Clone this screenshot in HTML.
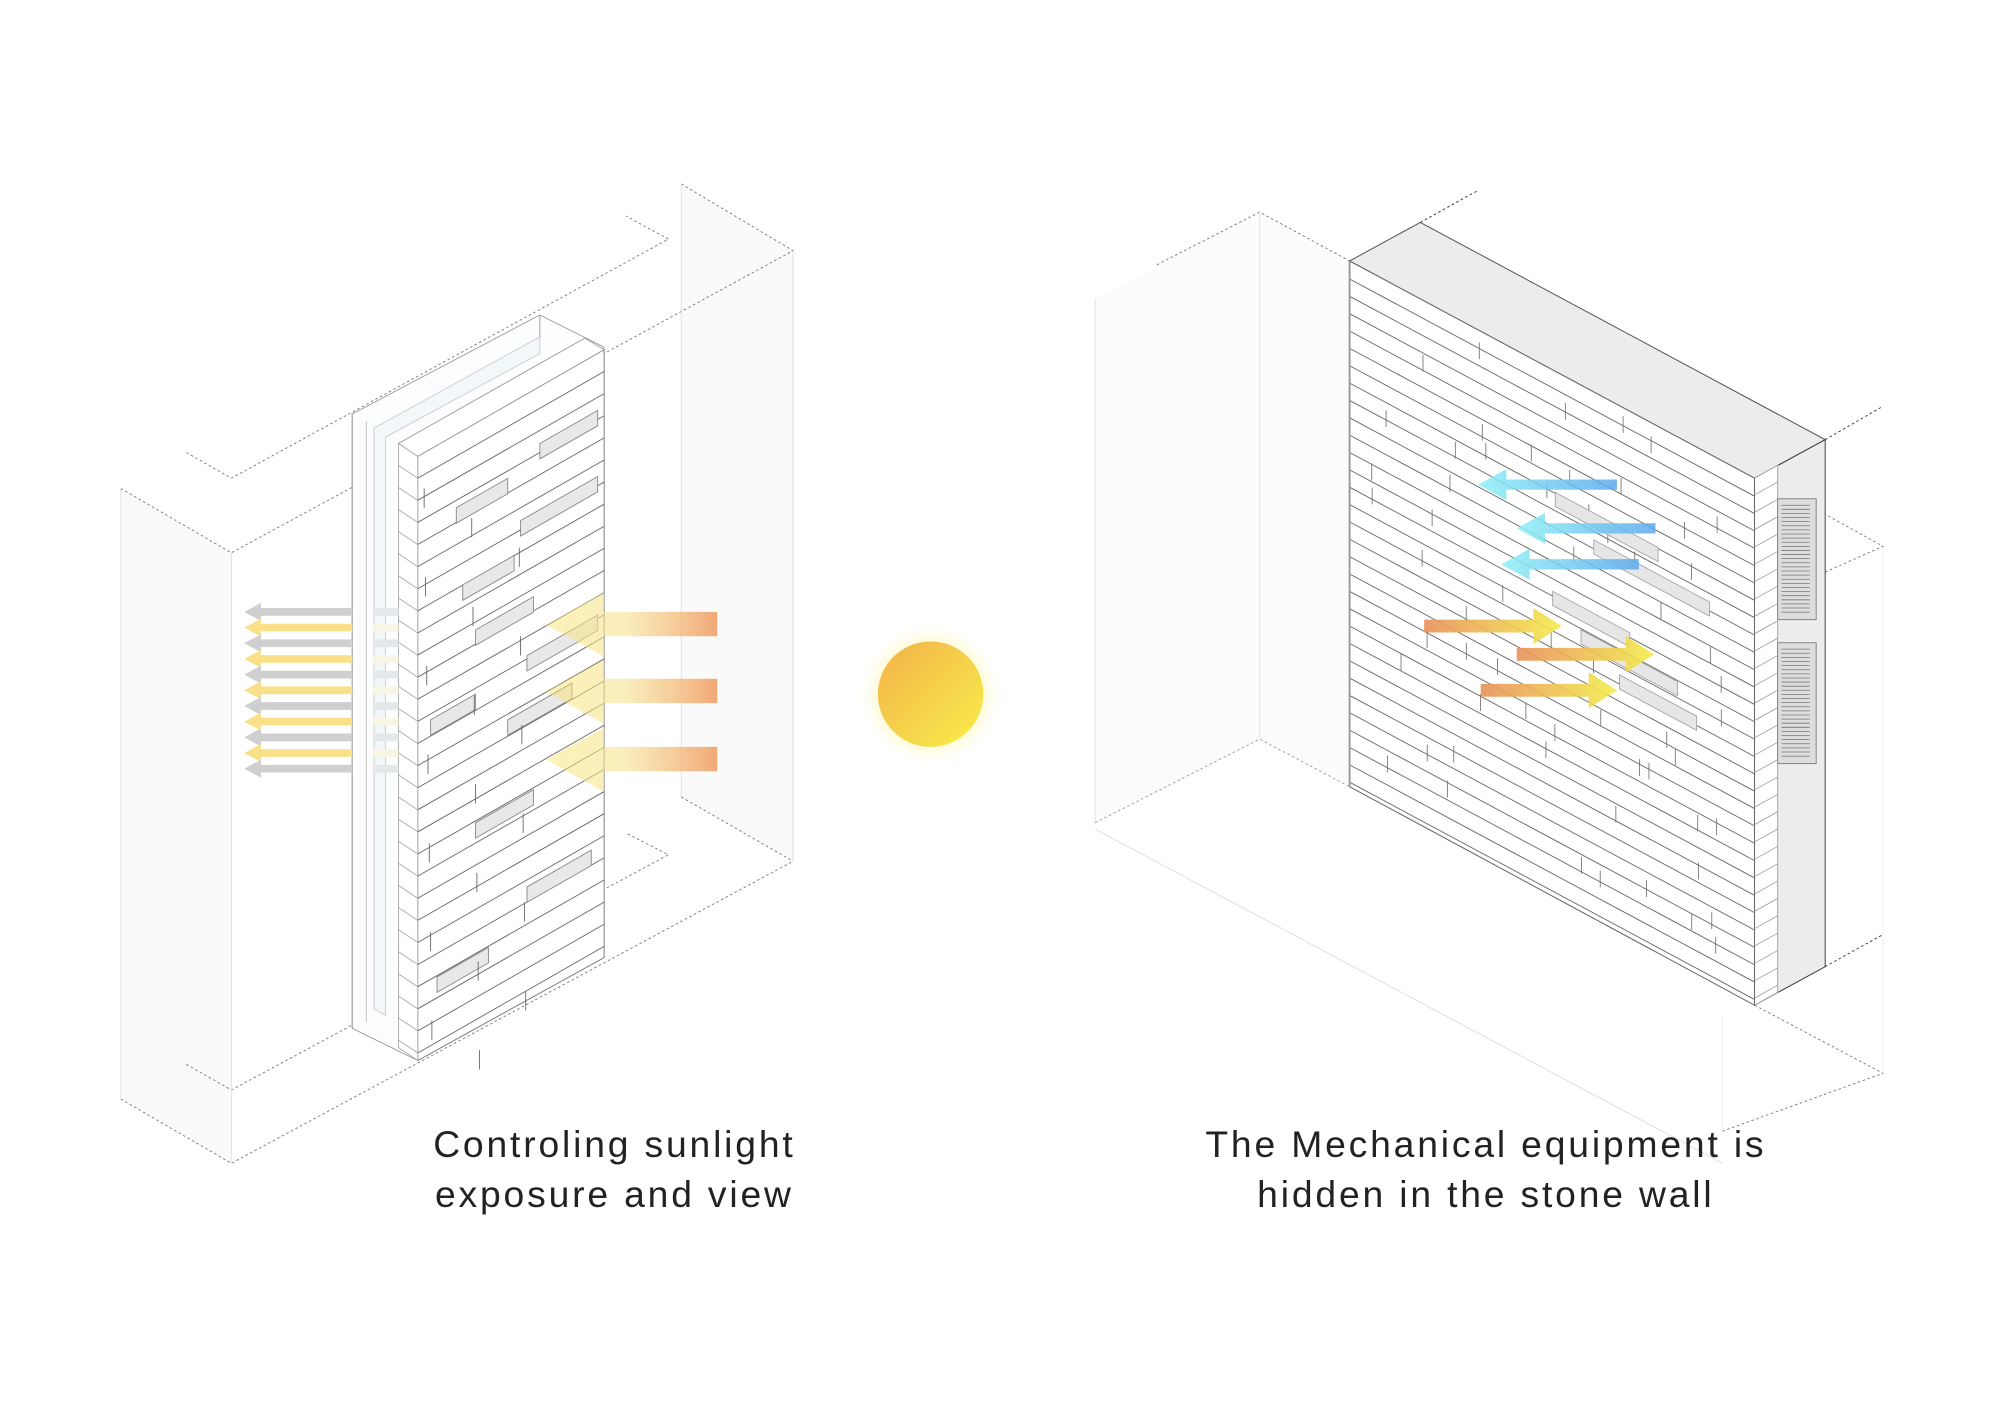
<!DOCTYPE html>
<html><head><meta charset="utf-8"><style>
html,body{margin:0;padding:0;background:#fff;}
svg{display:block}
</style></head><body>
<svg id="s" width="2000" height="1414" viewBox="0 0 1556 1100" xmlns="http://www.w3.org/2000/svg">
<defs>
<linearGradient id="sun" x1="0" y1="0" x2="1" y2="1">
<stop offset="0" stop-color="#f2b24a"/><stop offset="0.6" stop-color="#f6d64a"/><stop offset="1" stop-color="#f9ef4a"/></linearGradient>
<radialGradient id="glow"><stop offset="0.6" stop-color="#fff6b0" stop-opacity="0.9"/><stop offset="1" stop-color="#fff" stop-opacity="0"/></radialGradient>
<linearGradient id="ya" x1="0" y1="0" x2="1" y2="0"><stop offset="0" stop-color="#f8e060" stop-opacity="0.5"/><stop offset="0.45" stop-color="#f7e7a0" stop-opacity="0.8"/><stop offset="1" stop-color="#f09a60"/></linearGradient>
<linearGradient id="ba" x1="0" y1="0" x2="1" y2="0"><stop offset="0" stop-color="#8ef0f6"/><stop offset="1" stop-color="#5aa8ee"/></linearGradient>
<linearGradient id="oa" x1="0" y1="0" x2="1" y2="0"><stop offset="0" stop-color="#e8905a"/><stop offset="1" stop-color="#f4ec4a"/></linearGradient>
</defs>
<g id="bg" fill="none" stroke="#777" stroke-width="0.7" stroke-dasharray="2,2">
<polygon points="94,380 180,430 180,905 94,855" fill="#fafafa" stroke="none"/>
<polygon points="530,143 617,195 617,670 530,620" fill="#fafafa" stroke="none"/>
<polyline points="94,380 180,430 300,365"/>
<polyline points="145,352 180,372 520,186 487,168"/>
<polyline points="530,143 617,195 470,275"/>
<polyline points="94,855 180,905 617,670"/>
<polyline points="145,828 180,848 520,665 487,648"/>
<polyline points="530,620 617,670"/>
<line x1="180" y1="430" x2="180" y2="905" stroke="#ddd" stroke-dasharray="none"/>
<line x1="94" y1="380" x2="94" y2="855" stroke="#ddd" stroke-dasharray="none"/>
<line x1="617" y1="195" x2="617" y2="670" stroke="#ddd" stroke-dasharray="none"/>
<line x1="530" y1="143" x2="530" y2="620" stroke="#ddd" stroke-dasharray="none"/>
<polygon points="852,232 980,165 1050,203 1050,612 980,575 852,640" fill="#fcfcfc" stroke="none"/>
<polyline points="900,206 980,165 1050,203"/>
<line x1="852" y1="232" x2="852" y2="640" stroke="#e4e4e4" stroke-dasharray="none"/>
<line x1="980" y1="165" x2="980" y2="575" stroke="#e4e4e4" stroke-dasharray="none"/>
<polyline points="852,640 980,575 1050,612" stroke="#999"/>
<line x1="852" y1="645" x2="1340" y2="905" stroke="#ddd" stroke-dasharray="none"/>
<polyline points="1340,880 1465,835 1365,782"/>
<line x1="1340" y1="790" x2="1340" y2="880" stroke="#eee" stroke-dasharray="none"/>
<line x1="1465" y1="425" x2="1465" y2="835" stroke="#eee" stroke-dasharray="none"/>
<line x1="1105" y1="173" x2="1150" y2="148" stroke="#333"/>
<line x1="1420" y1="342" x2="1465" y2="316" stroke="#333"/>
<polyline points="1420,445 1465,425 1420,400"/>
<line x1="1420" y1="752" x2="1465" y2="727" stroke="#333"/>
</g>

<g stroke="#999" stroke-width="0.7" fill="#fff">
<polygon points="274,322 420,245 470,270 470,745 325,825 274,800" fill="#fbfdfe"/>
<polyline points="274,322 274,800" fill="none"/>
<polyline points="285,328 285,795" fill="none" stroke="#bbb"/>
<polygon points="291,333 420,262 420,275 300,340 300,790 291,785" fill="#f2f7fa" stroke="#ccc"/>
<polyline points="420,245 420,262" fill="none"/>
<polygon points="325,355 470,272 470,745 325,825" fill="#fff" stroke="#777"/>
<polygon points="310,345 455,263 470,272 325,355" fill="#fff"/>
<polygon points="310,345 325,355 325,825 310,815" fill="#fff" stroke="#aaa"/>
</g>
<g id="lb" stroke="#666" stroke-width="0.7" fill="none"></g>

<g id="la"></g>
<g fill="url(#ya)" opacity="0.85">
<polygon points="425,486 470,461 470,476 558,476 558,495 470,495 470,511"/>
<polygon points="425,538 470,513 470,528 558,528 558,547 470,547 470,563"/>
<polygon points="425,591 470,566 470,581 558,581 558,600 470,600 470,616"/>
</g>

<circle cx="724" cy="540" r="58" fill="url(#glow)"/>
<circle cx="724" cy="540" r="41" fill="url(#sun)"/>

<g stroke="#555" stroke-width="0.8">
<polygon points="1050,203 1105,173 1420,342 1365,372" fill="#ececec"/>
<polygon points="1365,372 1420,342 1420,752 1365,782" fill="#ececec" stroke="#444"/>
<polygon points="1365,372 1383,362 1383,772 1365,782" fill="#fff" stroke="#aaa"/>
<polygon points="1050,203 1365,372 1365,782 1050,612" fill="#fff" stroke="#666"/>
<rect x="1383" y="388" width="30" height="94" fill="#ddd" stroke="#888"/>
<rect x="1383" y="500" width="30" height="94" fill="#ddd" stroke="#888"/>
</g>
<g id="rb"></g>
<g id="vents" stroke="#777" stroke-width="0.6"></g>
<g id="ra"></g>

<g font-family="'Liberation Sans', sans-serif" font-size="29" fill="#222" text-anchor="middle" style="letter-spacing:2.2px">
<text x="478" y="900">Controling sunlight</text>
<text x="478" y="939">exposure and view</text>
<text x="1156" y="900">The Mechanical equipment is</text>
<text x="1156" y="939">hidden in the stone wall</text>
</g>
</svg>
<script>
var NS="http://www.w3.org/2000/svg";
function el(p,t,a){var e=document.createElementNS(NS,t);for(var k in a)e.setAttribute(k,a[k]);p.appendChild(e);return e;}
var lb=document.getElementById('lb');
var s=-83/145;
for(var y=372;y<825;y+=17.2){
 el(lb,'line',{x1:325,y1:y,x2:470,y2:y+145*s});
 el(lb,'line',{x1:310,y1:y-10,x2:325,y2:y,stroke:'#aaa'});
}
var rec=[[355,395,40],[420,345,45],[360,455,40],[405,405,60],[370,490,45],[410,510,55],[335,560,35],[395,560,50],[370,640,45],[410,690,50],[340,760,40]];
rec.forEach(function(r){var x=r[0],y=r[1],w=r[2];
 el(lb,'polygon',{points:x+','+y+' '+(x+w)+','+(y+w*s)+' '+(x+w)+','+(y+w*s+12)+' '+x+','+(y+12),fill:'#e8e8e8',stroke:'#888'});});
for(var i=0;i<20;i++){var y=380+i*23,x=330+(i*37)%110;el(lb,'line',{x1:x,y1:y,x2:x,y2:y+15});}
var la=document.getElementById('la');
for(var i=0;i<11;i++){var y=476+i*12.2,c=i%2?'#fbe08a':'#cfcfcf';
 el(la,'polygon',{points:'190,'+y+' 203,'+(y-7)+' 203,'+(y-3)+' 274,'+(y-3)+' 274,'+(y+3)+' 203,'+(y+3)+' 203,'+(y+7),fill:c});
 el(la,'rect',{x:290,y:y-3,width:20,height:6,fill:i%2?'#f8f5e4':'#e4e8ea'});}
var rb=document.getElementById('rb');var k=169/315;
for(var y=217;y<612;y+=13.5){el(rb,'line',{x1:1050,y1:y,x2:1365,y2:y+315*k,stroke:'#666','stroke-width':0.7});}
for(var y=385;y<782;y+=13.5){el(rb,'line',{x1:1365,y1:y,x2:1383,y2:y-10,stroke:'#999','stroke-width':0.6});}
el(rb,'line',{x1:1050,y1:203,x2:1050,y2:612,stroke:'#999','stroke-width':1.5});
var seed=3;function rnd(){seed=(seed*9301+49297)%233280;return seed/233280;}
for(var i=0;i<60;i++){var x=1060+rnd()*290,y0=203+(x-1050)*k+rnd()*390;if(y0+13>612+(x-1050)*k)continue;
 el(rb,'line',{x1:x,y1:y0,x2:x,y2:y0+13,stroke:'#777','stroke-width':0.7});}
[[1210,383,80],[1240,420,90],[1208,460,60],[1230,490,75],[1260,525,60]].forEach(function(r){var x=r[0],y=r[1],w=r[2];
 el(rb,'polygon',{points:x+','+y+' '+(x+w)+','+(y+w*k)+' '+(x+w)+','+(y+w*k+11)+' '+x+','+(y+11),fill:'#e6e6e6',stroke:'#999','stroke-width':0.6});});
var v=document.getElementById('vents');
[388,500].forEach(function(t){for(var y=t+5;y<t+90;y+=3.2)el(v,'line',{x1:1386,y1:y,x2:1408,y2:y});});
var ra=document.getElementById('ra');
[[1150,377,1258],[1180,411,1288],[1168,439,1275]].forEach(function(a){var x=a[0],y=a[1],e=a[2];
 el(ra,'polygon',{points:x+','+y+' '+(x+22)+','+(y-12)+' '+(x+22)+','+(y-4)+' '+e+','+(y-4)+' '+e+','+(y+4)+' '+(x+22)+','+(y+4)+' '+(x+22)+','+(y+12),fill:'url(#ba)',opacity:0.85});});
[[1108,487,1215],[1180,509,1287],[1152,537,1258]].forEach(function(a){var x=a[0],y=a[1],e=a[2];
 el(ra,'polygon',{points:x+','+(y-5)+' '+(e-22)+','+(y-5)+' '+(e-22)+','+(y-14)+' '+e+','+y+' '+(e-22)+','+(y+14)+' '+(e-22)+','+(y+5)+' '+x+','+(y+5),fill:'url(#oa)',opacity:0.9});});
</script>
</body></html>
